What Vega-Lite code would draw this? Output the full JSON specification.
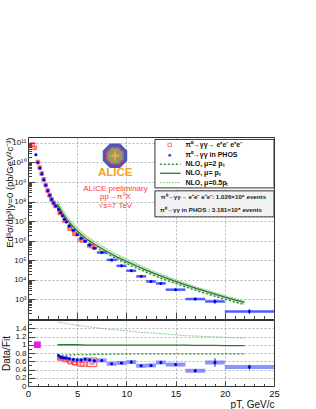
{
  "$schema": "https://vega.github.io/schema/vega-lite/v6.json",
  "padding": {"left": 0, "top": 136, "right": 5, "bottom": 2},
  "background": "white",
  "spacing": -4,
  "config": {
    "font": "Liberation Sans",
    "view": {"stroke": "#333", "strokeWidth": 1},
    "axis": {"domain": false, "tickColor": "#444", "labelColor": "#111", "titleColor": "#111", "titleFontWeight": "normal", "gridColor": "#888", "gridDash": [2, 2], "gridWidth": 0.6, "labelOverlap": false}
  },
  "datasets": {
    "blue": [
      {"pt": 0.8, "lo": 0.7, "hi": 0.9, "v": 2.5e10},
      {"pt": 1.0, "lo": 0.9, "hi": 1.1, "v": 1.0e10},
      {"pt": 1.2, "lo": 1.1, "hi": 1.3, "v": 5.25e9},
      {"pt": 1.4, "lo": 1.3, "hi": 1.5, "v": 2.63e9},
      {"pt": 1.6, "lo": 1.5, "hi": 1.7, "v": 1.32e9},
      {"pt": 1.8, "lo": 1.7, "hi": 1.9, "v": 6.9e8},
      {"pt": 2.0, "lo": 1.9, "hi": 2.1, "v": 3.63e8},
      {"pt": 2.2, "lo": 2.1, "hi": 2.3, "v": 2.09e8},
      {"pt": 2.4, "lo": 2.3, "hi": 2.5, "v": 1.29e8},
      {"pt": 2.6, "lo": 2.5, "hi": 2.7, "v": 8.5e7},
      {"pt": 2.8, "lo": 2.7, "hi": 3.0, "v": 5.9e7},
      {"pt": 3.1, "lo": 3.0, "hi": 3.2, "v": 3.98e7, "r": 0.74},
      {"pt": 3.3, "lo": 3.2, "hi": 3.4, "v": 2.69e7, "r": 0.70},
      {"pt": 3.5, "lo": 3.4, "hi": 3.6, "v": 1.82e7, "r": 0.69},
      {"pt": 3.7, "lo": 3.6, "hi": 3.8, "v": 1.26e7, "r": 0.68},
      {"pt": 3.9, "lo": 3.8, "hi": 4.0, "v": 9.1e6, "r": 0.68},
      {"pt": 4.2, "lo": 4.0, "hi": 4.4, "v": 5.6e6, "r": 0.66},
      {"pt": 4.6, "lo": 4.4, "hi": 4.8, "v": 3.4e6, "r": 0.64},
      {"pt": 5.0, "lo": 4.8, "hi": 5.2, "v": 2.0e6, "r": 0.63},
      {"pt": 5.4, "lo": 5.2, "hi": 5.6, "v": 1.35e6, "r": 0.63},
      {"pt": 5.8, "lo": 5.6, "hi": 6.0, "v": 9.3e5, "r": 0.65},
      {"pt": 6.25, "lo": 6.0, "hi": 6.5, "v": 6.0e5, "r": 0.63},
      {"pt": 6.75, "lo": 6.5, "hi": 7.0, "v": 4.1e5, "r": 0.61},
      {"pt": 7.5, "lo": 7, "hi": 8, "v": 2.5e5, "r": 0.62},
      {"pt": 8.5, "lo": 8, "hi": 9, "v": 1.05e5, "r": 0.54},
      {"pt": 9.5, "lo": 9, "hi": 10, "v": 5.2e4, "r": 0.56},
      {"pt": 10.5, "lo": 10, "hi": 11, "v": 2.95e4, "r": 0.58, "elo": 0.55, "ehi": 0.61},
      {"pt": 11.5, "lo": 11, "hi": 12, "v": 1.51e4, "r": 0.49, "elo": 0.46, "ehi": 0.52},
      {"pt": 12.5, "lo": 12, "hi": 13, "v": 8.3e3, "r": 0.50, "elo": 0.47, "ehi": 0.53},
      {"pt": 13.5, "lo": 13, "hi": 14, "v": 6.6e3, "r": 0.57, "elo": 0.53, "ehi": 0.61},
      {"pt": 15, "lo": 14, "hi": 16, "v": 3.16e3, "r": 0.52, "elo": 0.49, "ehi": 0.55, "vlo": 2900, "vhi": 3450},
      {"pt": 17, "lo": 16, "hi": 18, "v": 1.05e3, "r": 0.37, "elo": 0.33, "ehi": 0.41, "vlo": 900, "vhi": 1220},
      {"pt": 19, "lo": 18, "hi": 20, "v": 7.9e2, "r": 0.57, "elo": 0.47, "ehi": 0.67, "vlo": 600, "vhi": 1000},
      {"pt": 22.5, "lo": 20, "hi": 25, "v": 2.4e2, "r": 0.46, "elo": 0.40, "ehi": 0.52, "vlo": 180, "vhi": 320}
    ],
    "red": [
      {"pt": 0.45, "lo": 0.4, "hi": 0.5, "v": 8.3e10},
      {"pt": 0.68, "lo": 0.6, "hi": 0.8, "v": 5.6e10},
      {"pt": 1.0, "lo": 0.9, "hi": 1.1, "v": 1.05e10},
      {"pt": 1.2, "lo": 1.1, "hi": 1.3, "v": 5.4e9},
      {"pt": 1.4, "lo": 1.3, "hi": 1.5, "v": 2.7e9},
      {"pt": 1.6, "lo": 1.5, "hi": 1.7, "v": 1.35e9},
      {"pt": 1.8, "lo": 1.7, "hi": 1.9, "v": 7.0e8},
      {"pt": 2.0, "lo": 1.9, "hi": 2.1, "v": 3.7e8},
      {"pt": 2.2, "lo": 2.1, "hi": 2.3, "v": 2.1e8},
      {"pt": 2.4, "lo": 2.3, "hi": 2.5, "v": 1.3e8},
      {"pt": 2.6, "lo": 2.5, "hi": 2.7, "v": 8.6e7},
      {"pt": 2.8, "lo": 2.7, "hi": 3.0, "v": 6.0e7},
      {"pt": 3.25, "lo": 3.0, "hi": 3.5, "v": 2.63e7, "r": 0.66, "rlo": 0.64, "rhi": 0.68},
      {"pt": 3.75, "lo": 3.5, "hi": 4.0, "v": 1.05e7, "r": 0.63, "rlo": 0.61, "rhi": 0.65},
      {"pt": 4.25, "lo": 4.0, "hi": 4.5, "v": 4.2e6, "r": 0.58, "rlo": 0.555, "rhi": 0.605},
      {"pt": 4.75, "lo": 4.5, "hi": 5.0, "v": 2.24e6, "r": 0.55, "rlo": 0.52, "rhi": 0.58},
      {"pt": 5.5, "lo": 5.0, "hi": 6.0, "v": 1.05e6, "r": 0.53, "rlo": 0.48, "rhi": 0.58},
      {"pt": 6.5, "lo": 6.0, "hi": 7.0, "v": 5.25e5, "r": 0.58, "rlo": 0.47, "rhi": 0.68}
    ],
    "nlo": [
      {"pt": 3, "up": 1.1e8, "mid": 7.1e7, "low": 5.25e7, "rup": 1.55, "rmid": 1.0, "rlow": 0.74},
      {"pt": 3.5, "up": 4.02e7, "mid": 2.63e7, "low": 1.96e7, "rup": 1.53, "rmid": 1.0, "rlow": 0.745},
      {"pt": 4, "up": 1.69e7, "mid": 1.12e7, "low": 8.4e6, "rup": 1.51, "rmid": 1.0, "rlow": 0.75},
      {"pt": 5, "up": 4.65e6, "mid": 3.16e6, "low": 2.4e6, "rup": 1.47, "rmid": 1.0, "rlow": 0.76},
      {"pt": 6, "up": 1.68e6, "mid": 1.17e6, "low": 8.9e5, "rup": 1.44, "rmid": 0.99, "rlow": 0.76},
      {"pt": 7, "up": 7.76e5, "mid": 5.5e5, "low": 4.24e5, "rup": 1.41, "rmid": 0.99, "rlow": 0.77},
      {"pt": 8, "up": 3.89e5, "mid": 2.82e5, "low": 2.17e5, "rup": 1.38, "rmid": 0.99, "rlow": 0.77},
      {"pt": 9, "up": 2.05e5, "mid": 1.51e5, "low": 1.17e5, "rup": 1.36, "rmid": 0.99, "rlow": 0.775},
      {"pt": 10, "up": 1.19e5, "mid": 8.9e4, "low": 6.9e4, "rup": 1.34, "rmid": 0.99, "rlow": 0.775},
      {"pt": 11, "up": 6.88e4, "mid": 5.25e4, "low": 4.1e4, "rup": 1.31, "rmid": 0.99, "rlow": 0.78},
      {"pt": 12, "up": 4.08e4, "mid": 3.16e4, "low": 2.46e4, "rup": 1.29, "rmid": 0.99, "rlow": 0.78},
      {"pt": 13, "up": 2.5e4, "mid": 1.95e4, "low": 1.52e4, "rup": 1.28, "rmid": 0.99, "rlow": 0.78},
      {"pt": 14, "up": 1.59e4, "mid": 1.26e4, "low": 9.8e3, "rup": 1.26, "rmid": 0.99, "rlow": 0.78},
      {"pt": 15, "up": 1.03e4, "mid": 8.3e3, "low": 6.5e3, "rup": 1.24, "rmid": 0.99, "rlow": 0.78},
      {"pt": 16, "up": 6.83e3, "mid": 5.6e3, "low": 4.37e3, "rup": 1.22, "rmid": 0.99, "rlow": 0.78},
      {"pt": 17, "up": 4.6e3, "mid": 3.8e3, "low": 2.96e3, "rup": 1.21, "rmid": 0.985, "rlow": 0.78},
      {"pt": 18, "up": 3.16e3, "mid": 2.63e3, "low": 2.05e3, "rup": 1.2, "rmid": 0.985, "rlow": 0.78},
      {"pt": 19, "up": 2.21e3, "mid": 1.86e3, "low": 1.45e3, "rup": 1.19, "rmid": 0.985, "rlow": 0.78},
      {"pt": 20, "up": 1.56e3, "mid": 1.32e3, "low": 1.03e3, "rup": 1.18, "rmid": 0.98, "rlow": 0.78},
      {"pt": 21, "up": 1.11e3, "mid": 9.5e2, "low": 7.4e2, "rup": 1.17, "rmid": 0.98, "rlow": 0.78},
      {"pt": 22, "up": 8.24e2, "mid": 7.1e2, "low": 5.5e2, "rup": 1.16, "rmid": 0.98, "rlow": 0.78}
    ]
  },
  "vconcat": [
    {
      "width": 246,
      "height": 182,
      "layer": [
        {
          "data": {"name": "nlo"},
          "mark": {"type": "area", "color": "#93cf8e", "opacity": 0.45},
          "encoding": {
            "x": {"field": "pt", "type": "quantitative", "scale": {"domain": [0, 25], "nice": false, "zero": false},
              "axis": {"values": [0,1,2,3,4,5,6,7,8,9,10,11,12,13,14,15,16,17,18,19,20,21,22,23,24,25], "tickCount": 30, "labels": false, "title": null, "minExtent": 0, "maxExtent": 0,
                "tickSize": {"condition": {"test": "datum.value % 5 == 0", "value": -7}, "value": -3.5},
                "gridOpacity": {"condition": {"test": "datum.value % 5 == 0 && datum.value > 0 && datum.value < 25", "value": 1}, "value": 0}}},
            "y": {"field": "low", "type": "quantitative", "scale": {"type": "log", "domain": [100, 2e11], "nice": false},
              "axis": {
                "values": [2e2,3e2,4e2,5e2,6e2,7e2,8e2,9e2,1e3,2e3,3e3,4e3,5e3,6e3,7e3,8e3,9e3,1e4,2e4,3e4,4e4,5e4,6e4,7e4,8e4,9e4,1e5,2e5,3e5,4e5,5e5,6e5,7e5,8e5,9e5,1e6,2e6,3e6,4e6,5e6,6e6,7e6,8e6,9e6,1e7,2e7,3e7,4e7,5e7,6e7,7e7,8e7,9e7,1e8,2e8,3e8,4e8,5e8,6e8,7e8,8e8,9e8,1e9,2e9,3e9,4e9,5e9,6e9,7e9,8e9,9e9,1e10,2e10,3e10,4e10,5e10,6e10,7e10,8e10,9e10,1e11],
                "tickCount": 100,
                "labelExpr": "datum.value==1e3?'10³':datum.value==1e4?'10⁴':datum.value==1e5?'10⁵':datum.value==1e6?'10⁶':datum.value==1e7?'10⁷':datum.value==1e8?'10⁸':datum.value==1e9?'10⁹':datum.value==1e10?'10¹⁰':datum.value==1e11?'10¹¹':''",
                "labelFontSize": 8, "labelPadding": 9, "labelOverlap": false,
                "tickSize": {"condition": {"test": "abs(log(datum.value)/LN10 - round(log(datum.value)/LN10)) < 1e-6", "value": -7}, "value": -3.5},
                "gridOpacity": {"condition": {"test": "abs(log(datum.value)/LN10 - round(log(datum.value)/LN10)) < 1e-6 && datum.value > 150 && datum.value < 1.5e11", "value": 1}, "value": 0},
                "title": "Ed³σ/dp³|y=0 (pb/GeV²c⁻³)", "titleFontSize": 9.5, "titleAnchor": "end", "titleX": -14, "titleBaseline": "bottom"
              }},
            "y2": {"field": "up"}
          }
        },
        {
          "data": {"name": "nlo"},
          "mark": {"type": "line", "color": "#6fbf6f", "strokeWidth": 0.8, "strokeDash": [2, 1]},
          "encoding": {"x": {"field": "pt", "type": "quantitative"}, "y": {"field": "up", "type": "quantitative"}}
        },
        {
          "data": {"name": "nlo"},
          "mark": {"type": "line", "color": "#2a7a2a", "strokeWidth": 1.3},
          "encoding": {"x": {"field": "pt", "type": "quantitative"}, "y": {"field": "mid", "type": "quantitative"}}
        },
        {
          "data": {"name": "nlo"},
          "mark": {"type": "line", "color": "#2f8f2f", "strokeWidth": 1.4, "strokeDash": [2, 2]},
          "encoding": {"x": {"field": "pt", "type": "quantitative"}, "y": {"field": "low", "type": "quantitative"}}
        },
        {
          "data": {"name": "red"},
          "mark": {"type": "rule", "color": "#ff6a6a", "strokeWidth": 3.5, "opacity": 0.75},
          "encoding": {"x": {"field": "lo", "type": "quantitative"}, "x2": {"field": "hi"}, "y": {"field": "v", "type": "quantitative"}}
        },
        {
          "data": {"name": "blue"},
          "mark": {"type": "rule", "color": "#2f3fff", "strokeWidth": 2.5, "opacity": 0.85},
          "encoding": {"x": {"field": "lo", "type": "quantitative"}, "x2": {"field": "hi"}, "y": {"field": "v", "type": "quantitative"}}
        },
        {
          "data": {"name": "blue"},
          "mark": {"type": "rule", "color": "#0000dd", "strokeWidth": 1},
          "encoding": {"x": {"field": "pt", "type": "quantitative"}, "y": {"field": "vlo", "type": "quantitative"}, "y2": {"field": "vhi"}}
        },
        {
          "data": {"name": "red"},
          "mark": {"type": "point", "shape": "square", "filled": false, "color": "#ff2020", "size": 14, "strokeWidth": 1},
          "encoding": {"x": {"field": "pt", "type": "quantitative"}, "y": {"field": "v", "type": "quantitative"}}
        },
        {
          "data": {"name": "blue"},
          "mark": {"type": "point", "shape": "circle", "filled": true, "color": "#0000ee", "size": 9, "opacity": 1},
          "encoding": {"x": {"field": "pt", "type": "quantitative"}, "y": {"field": "v", "type": "quantitative"}}
        },
        {
          "data": {"values": [{}]},
          "mark": {"type": "point", "shape": "M-0.414,-1L0.414,-1L1,-0.414L1,0.414L0.414,1L-0.414,1L-1,0.414L-1,-0.414Z", "filled": true, "color": "#4858b8", "size": 600, "opacity": 1},
          "encoding": {"x": {"datum": 8.84}, "y": {"datum": 2.2e10}}
        },
        {
          "data": {"values": [{}]},
          "mark": {"type": "point", "shape": "M-0.414,-1L0.414,-1L1,-0.414L1,0.414L0.414,1L-0.414,1L-1,0.414L-1,-0.414Z", "filled": true, "color": "#d8466a", "size": 330, "opacity": 1},
          "encoding": {"x": {"datum": 8.84}, "y": {"datum": 2.2e10}}
        },
        {
          "data": {"values": [{}]},
          "mark": {"type": "point", "shape": "M-0.414,-1L0.414,-1L1,-0.414L1,0.414L0.414,1L-0.414,1L-1,0.414L-1,-0.414Z", "filled": true, "color": "#8a9c6a", "size": 230, "opacity": 1},
          "encoding": {"x": {"datum": 8.84}, "y": {"datum": 2.2e10}}
        },
        {
          "data": {"values": [{}]},
          "mark": {"type": "point", "shape": "M0,-1L0.2,-0.2L1,0L0.2,0.2L0,1L-0.2,0.2L-1,0L-0.2,-0.2Z", "filled": true, "color": "#f3a43a", "size": 180, "opacity": 1},
          "encoding": {"x": {"datum": 8.84}, "y": {"datum": 2.2e10}}
        },
        {
          "data": {"values": [{}]},
          "mark": {"type": "text", "text": "ALICE", "color": "#f5a21c", "fontSize": 11.5, "fontWeight": "bold", "align": "center", "baseline": "middle"},
          "encoding": {"x": {"datum": 8.86}, "y": {"datum": 2.95e9}}
        },
        {
          "data": {"values": [{}]},
          "mark": {"type": "text", "text": "ALICE preliminary", "color": "#ff3838", "fontSize": 8, "align": "center", "baseline": "middle"},
          "encoding": {"x": {"datum": 8.89}, "y": {"datum": 4.5e8}}
        },
        {
          "data": {"values": [{}]},
          "mark": {"type": "text", "text": "pp→π⁰X", "color": "#ff3838", "fontSize": 8, "align": "center", "baseline": "middle"},
          "encoding": {"x": {"datum": 8.89}, "y": {"datum": 1.76e8}}
        },
        {
          "data": {"values": [{}]},
          "mark": {"type": "text", "text": "√s=7 TeV", "color": "#ff3838", "fontSize": 8, "align": "center", "baseline": "middle"},
          "encoding": {"x": {"datum": 8.89}, "y": {"datum": 5.75e7}}
        },
        {
          "data": {"values": [{}]},
          "mark": {"type": "rect", "fill": "white", "stroke": "#333", "strokeWidth": 1},
          "encoding": {"x": {"datum": 12.9}, "x2": {"datum": 25}, "y": {"datum": 1.5e11}, "y2": {"datum": 5.0e8}}
        },
        {
          "data": {"values": [{}]},
          "mark": {"type": "point", "shape": "square", "filled": false, "color": "#ff4040", "size": 12, "strokeWidth": 1},
          "encoding": {"x": {"datum": 14.4}, "y": {"datum": 7.9e10}}
        },
        {
          "data": {"values": [{}]},
          "mark": {"type": "point", "shape": "circle", "filled": true, "color": "#0000ee", "size": 9},
          "encoding": {"x": {"datum": 14.4}, "y": {"datum": 2.35e10}}
        },
        {
          "data": {"values": [{}]},
          "mark": {"type": "rule", "color": "#2f8f2f", "strokeWidth": 1.4, "strokeDash": [2, 2]},
          "encoding": {"x": {"datum": 13.4}, "x2": {"datum": 15.5}, "y": {"datum": 8.1e9}}
        },
        {
          "data": {"values": [{}]},
          "mark": {"type": "rule", "color": "#2a7a2a", "strokeWidth": 1.3},
          "encoding": {"x": {"datum": 13.4}, "x2": {"datum": 15.5}, "y": {"datum": 2.8e9}}
        },
        {
          "data": {"values": [{}]},
          "mark": {"type": "rule", "color": "#6fbf6f", "strokeWidth": 0.8, "strokeDash": [2, 1]},
          "encoding": {"x": {"datum": 13.4}, "x2": {"datum": 15.5}, "y": {"datum": 9.3e8}}
        },
        {
          "data": {"values": [{}]},
          "mark": {"type": "text", "text": "π⁰→γγ→ e⁺e⁻ e⁺e⁻", "color": "#111", "fontSize": 7, "fontWeight": "bold", "align": "left", "baseline": "middle"},
          "encoding": {"x": {"datum": 16.0}, "y": {"datum": 7.9e10}}
        },
        {
          "data": {"values": [{}]},
          "mark": {"type": "text", "text": "π⁰→γγ in PHOS", "color": "#111", "fontSize": 7, "fontWeight": "bold", "align": "left", "baseline": "middle"},
          "encoding": {"x": {"datum": 16.0}, "y": {"datum": 2.35e10}}
        },
        {
          "data": {"values": [{}]},
          "mark": {"type": "text", "text": "NLO, μ=2 pₜ", "color": "#111", "fontSize": 7, "fontWeight": "bold", "align": "left", "baseline": "middle"},
          "encoding": {"x": {"datum": 16.0}, "y": {"datum": 8.1e9}}
        },
        {
          "data": {"values": [{}]},
          "mark": {"type": "text", "text": "NLO, μ=  pₜ", "color": "#111", "fontSize": 7, "fontWeight": "bold", "align": "left", "baseline": "middle"},
          "encoding": {"x": {"datum": 16.0}, "y": {"datum": 2.8e9}}
        },
        {
          "data": {"values": [{}]},
          "mark": {"type": "text", "text": "NLO, μ=0.5pₜ", "color": "#111", "fontSize": 7, "fontWeight": "bold", "align": "left", "baseline": "middle"},
          "encoding": {"x": {"datum": 16.0}, "y": {"datum": 9.3e8}}
        },
        {
          "data": {"values": [{}]},
          "mark": {"type": "rect", "fill": "#f2f2f2", "stroke": "#333", "strokeWidth": 1},
          "encoding": {"x": {"datum": 12.9}, "x2": {"datum": 25}, "y": {"datum": 3.55e8}, "y2": {"datum": 1.66e7}}
        },
        {
          "data": {"values": [{}]},
          "mark": {"type": "text", "text": "π⁰→γγ→ e⁺e⁻ e⁺e⁻: 1.026×10⁹ events", "color": "#222", "fontSize": 6.2, "fontWeight": "bold", "align": "center", "baseline": "middle"},
          "encoding": {"x": {"datum": 18.85}, "y": {"datum": 1.8e8}}
        },
        {
          "data": {"values": [{}]},
          "mark": {"type": "text", "text": "π⁰→γγ in PHOS   : 3.181×10⁸ events", "color": "#222", "fontSize": 6.2, "fontWeight": "bold", "align": "center", "baseline": "middle"},
          "encoding": {"x": {"datum": 18.6}, "y": {"datum": 3.8e7}}
        }
      ]
    },
    {
      "width": 246,
      "height": 66,
      "layer": [
        {
          "data": {"name": "nlo"},
          "mark": {"type": "line", "color": "#6fbf6f", "strokeWidth": 0.8, "strokeDash": [2, 1]},
          "encoding": {
            "x": {"field": "pt", "type": "quantitative", "scale": {"domain": [0, 25], "nice": false, "zero": false},
              "axis": {"values": [0,1,2,3,4,5,6,7,8,9,10,11,12,13,14,15,16,17,18,19,20,21,22,23,24,25], "tickCount": 30,
                "labelExpr": "datum.value % 5 == 0 ? format(datum.value, 'd') : ''", "labelFontSize": 9.5, "labelPadding": 7, "labelFlush": false, "labelOverlap": false,
                "tickSize": {"condition": {"test": "datum.value % 5 == 0", "value": -5}, "value": -2.5},
                "gridOpacity": {"condition": {"test": "datum.value % 5 == 0 && datum.value > 0 && datum.value < 25", "value": 1}, "value": 0},
                "title": "pT, GeV/c", "titleAnchor": "end", "titleFontSize": 10, "titlePadding": -1}},
            "y": {"field": "rup", "type": "quantitative", "scale": {"domain": [0, 1.6], "nice": false, "zero": false},
              "axis": {"values": [0,0.1,0.2,0.3,0.4,0.5,0.6,0.7,0.8,0.9,1,1.1,1.2,1.3,1.4,1.5], "tickCount": 30,
                "labelExpr": "(round(datum.value*10) % 2 == 0 && datum.value < 1.5) ? format(datum.value, '~g') : ''",
                "labelFontSize": 8, "labelPadding": 9, "labelOverlap": false,
                "tickSize": {"condition": {"test": "round(datum.value*10) % 2 == 0", "value": -7}, "value": -3.5},
                "gridOpacity": {"condition": {"test": "round(datum.value*10) % 2 == 0 && datum.value > 0.05 && datum.value < 1.5", "value": 1}, "value": 0},
                "title": "Data/Fit", "titleFontSize": 10, "titleX": -17, "titleBaseline": "bottom"}}
          }
        },
        {
          "data": {"name": "nlo"},
          "mark": {"type": "line", "color": "#2a7a2a", "strokeWidth": 1.3},
          "encoding": {"x": {"field": "pt", "type": "quantitative"}, "y": {"field": "rmid", "type": "quantitative"}}
        },
        {
          "data": {"name": "nlo"},
          "mark": {"type": "line", "color": "#2f8f2f", "strokeWidth": 1.4, "strokeDash": [2, 2]},
          "encoding": {"x": {"field": "pt", "type": "quantitative"}, "y": {"field": "rlow", "type": "quantitative"}}
        },
        {
          "data": {"name": "red"},
          "mark": {"type": "rect", "fill": "#ffb0b0", "fillOpacity": 0.35, "stroke": "#ff3030", "strokeWidth": 0.8},
          "encoding": {"x": {"field": "lo", "type": "quantitative"}, "x2": {"field": "hi"}, "y": {"field": "rlo", "type": "quantitative"}, "y2": {"field": "rhi"}}
        },
        {
          "data": {"name": "red"},
          "mark": {"type": "point", "shape": "square", "filled": false, "color": "#ff2020", "size": 14, "strokeWidth": 1},
          "encoding": {"x": {"field": "pt", "type": "quantitative"}, "y": {"field": "r", "type": "quantitative"}}
        },
        {
          "data": {"name": "blue"},
          "mark": {"type": "rule", "color": "#6f78ff", "strokeWidth": 4, "opacity": 0.8},
          "encoding": {"x": {"field": "lo", "type": "quantitative"}, "x2": {"field": "hi"}, "y": {"field": "r", "type": "quantitative"}}
        },
        {
          "data": {"name": "blue"},
          "mark": {"type": "rule", "color": "#0000cc", "strokeWidth": 1},
          "encoding": {"x": {"field": "pt", "type": "quantitative"}, "y": {"field": "elo", "type": "quantitative"}, "y2": {"field": "ehi"}}
        },
        {
          "data": {"name": "blue"},
          "mark": {"type": "point", "shape": "circle", "filled": true, "color": "#0000cc", "size": 9, "opacity": 1},
          "encoding": {"x": {"field": "pt", "type": "quantitative"}, "y": {"field": "r", "type": "quantitative"}}
        },
        {
          "data": {"values": [{}]},
          "mark": {"type": "rect", "fill": "#e020e0"},
          "encoding": {"x": {"datum": 0.6}, "x2": {"datum": 1.3}, "y": {"datum": 0.92}, "y2": {"datum": 1.08}}
        }
      ]
    }
  ]
}
